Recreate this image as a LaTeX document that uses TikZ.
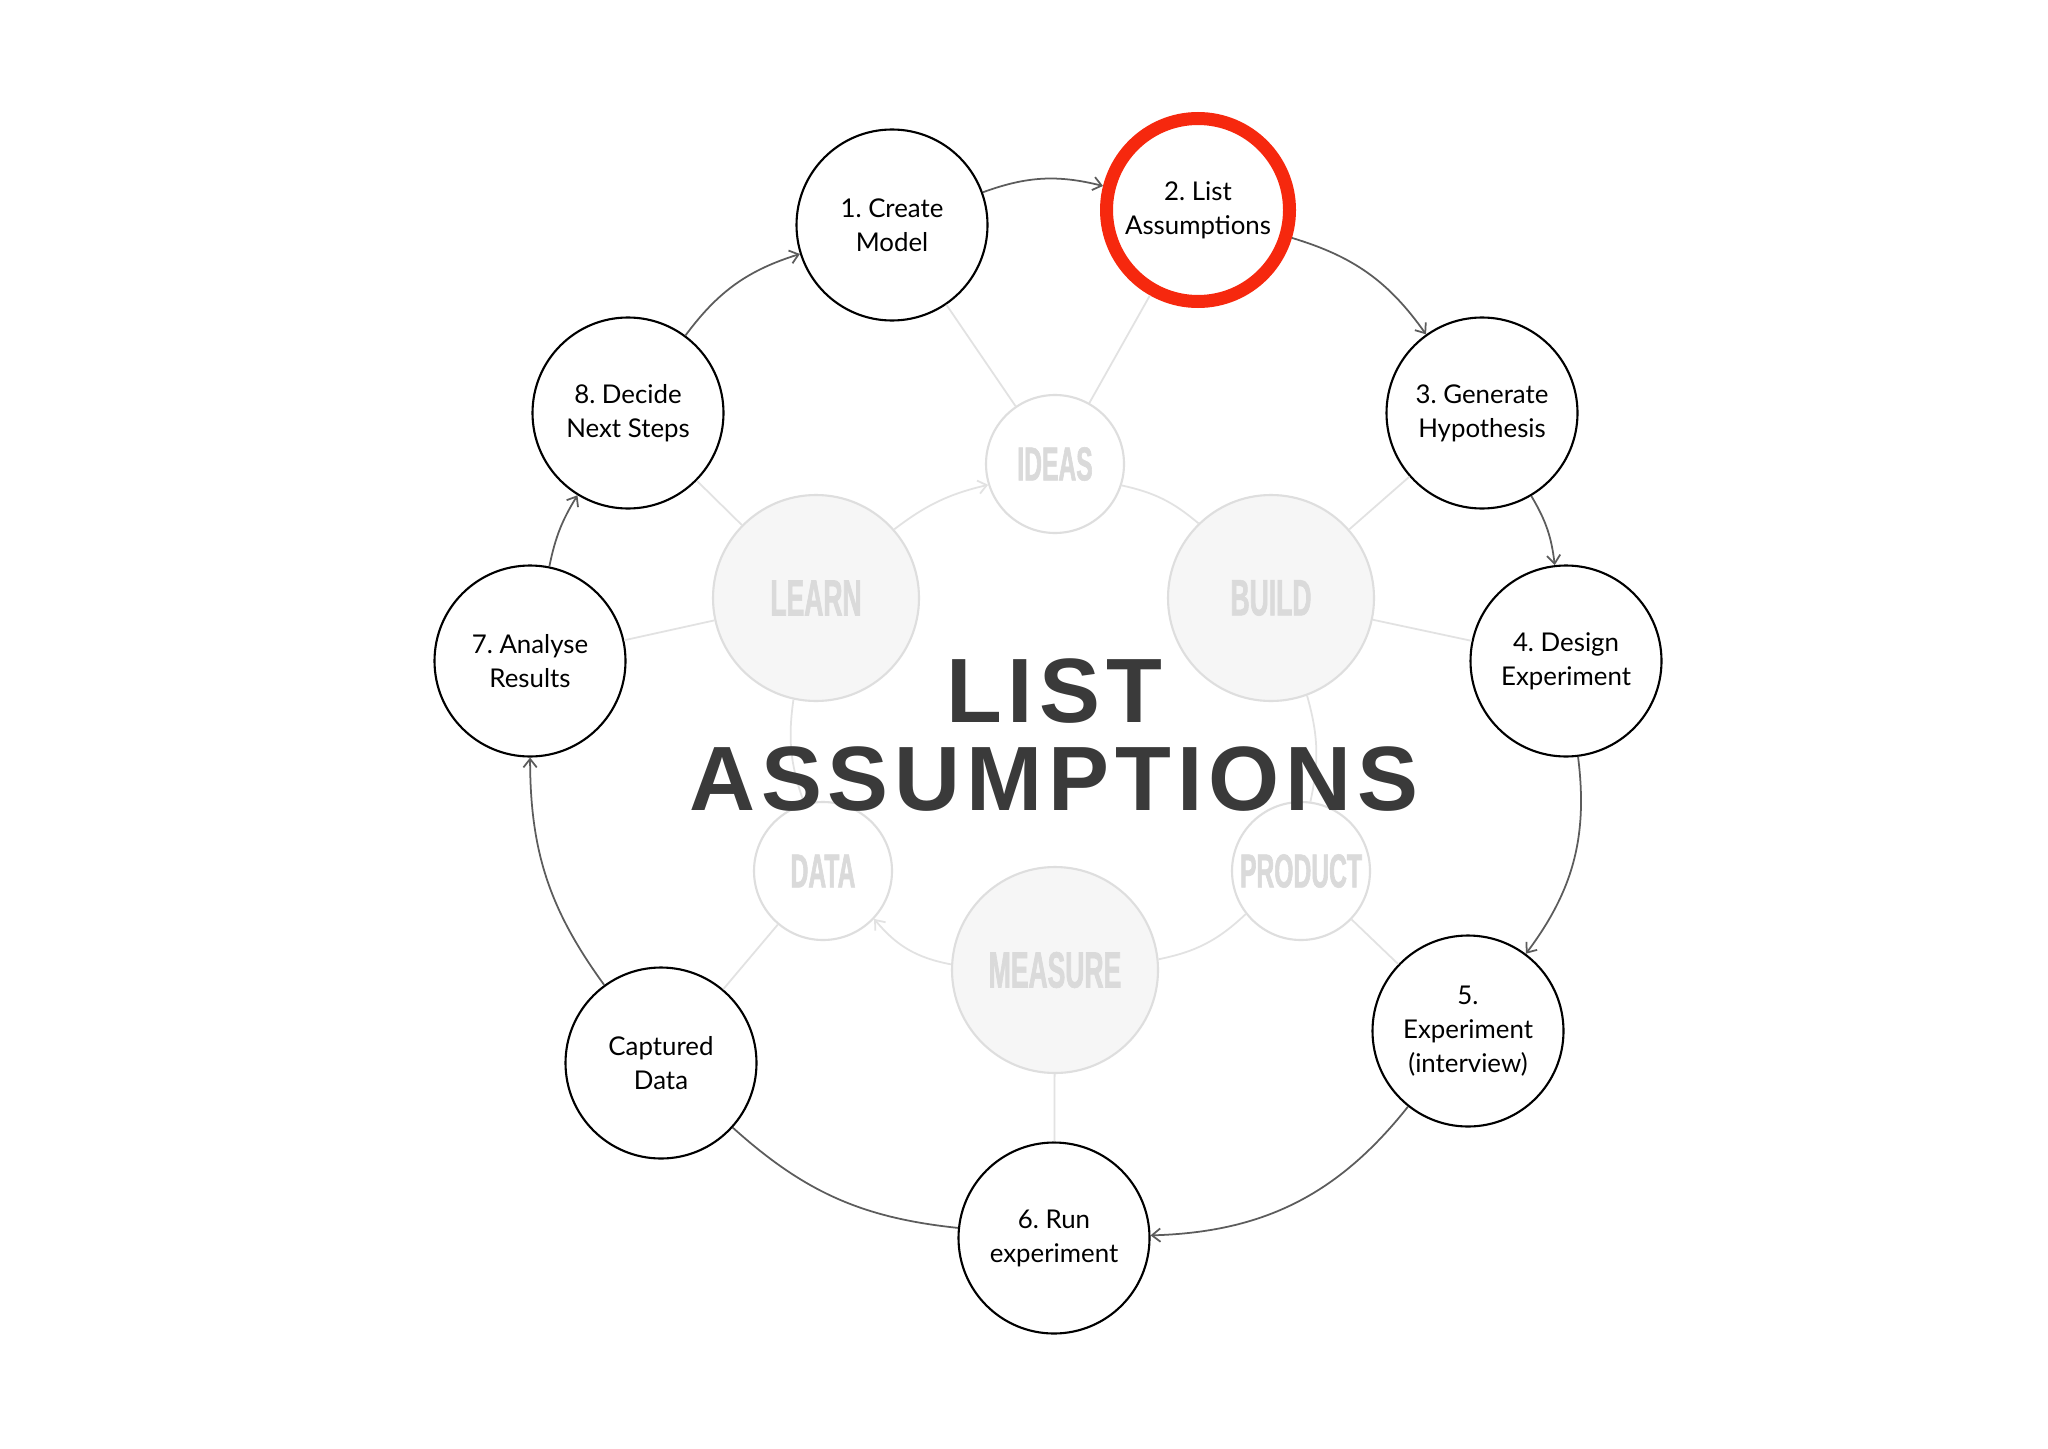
\documentclass[tikz,border=0pt]{standalone}
\usepackage{fontspec}
\setmainfont{Lato}
\newfontfamily\titlefont[LetterSpace=6.5]{Liberation Sans}
\newfontfamily\phasefont[FakeStretch=0.52,FakeBold=1.2]{Liberation Sans}
\usetikzlibrary{arrows.meta,positioning}
\frenchspacing
\definecolor{ringgray}{HTML}{5C5C5C}
\definecolor{spokegray}{HTML}{E2E2E2}
\definecolor{phasefill}{HTML}{F6F6F6}
\definecolor{phaseline}{HTML}{DEDEDE}
\definecolor{phasetext}{HTML}{DADADA}
\definecolor{focusred}{RGB}{246,40,14}
\definecolor{titlegray}{HTML}{3A3A3A}
\tikzset{
    >={Straight Barb[length=2.4pt,width=3.8pt]},
    every picture/.style={line width=0.5pt},
    stepnode/.style={circle,draw=black,line width=0.6pt,fill=white,minimum size=1.91cm,inner sep=0pt,align=center,font=\fontsize{7.35}{9.7}\selectfont},
    focusnode/.style={stepnode,draw=focusred,line width=3.7pt,minimum size=1.83cm},
    phasebig/.style={circle,draw=phaseline,line width=0.6pt,fill=phasefill,minimum size=2.06cm,inner sep=0pt,text=phasetext,font=\phasefont\bfseries\fontsize{14.5}{14.5}\selectfont},
    phasesmall/.style={phasebig,fill=white,minimum size=1.38cm,font=\phasefont\bfseries\fontsize{13.5}{13.5}\selectfont},
    titletext/.style={anchor=base,inner sep=0pt,text=titlegray,font=\titlefont\bfseries\fontsize{26}{26}\selectfont},
    ringarrow/.style={draw=ringgray,line width=0.5pt,->},
    ringline/.style={draw=ringgray,line width=0.5pt},
    spoke/.style={draw=spokegray,line width=0.5pt},
    innerarc/.style={draw=spokegray,line width=0.5pt}
}

\begin{document}
\begin{tikzpicture}[x=0.1mm,y=0.1mm]
    \path[use as bounding box,fill=white] (0,0) rectangle (2048,-1448);

    % inner cycle
    \node[phasesmall] (ideas) at (1055,-464) {IDEAS};
    \node[phasebig] (learn) at (816,-598) {LEARN};
    \node[phasebig] (build) at (1271,-598) {BUILD};
    \node[phasesmall] (data) at (823,-871) {DATA};
    \node[phasesmall] (product) at (1301,-871) {PRODUCT};
    \node[phasebig] (measure) at (1055,-970) {MEASURE};

    \draw[innerarc,->] (learn) to[bend left=12] (ideas);
    \draw[innerarc] (ideas) to[bend left=14] (build);
    \draw[innerarc] (build) to[bend left=14] (product);
    \draw[innerarc] (product) to[bend left=16] (measure);
    \draw[innerarc,->] (measure) to[bend left=20] (data);
    \draw[innerarc] (data) to[bend left=14] (learn);

    % outer steps
    \node[stepnode] (create) at (892,-225) {1. Create\\Model};
    \node[focusnode] (assume) at (1198,-210) {2. List\\Assumptions};
    \node[stepnode] (hypo) at (1482,-413) {3. Generate\\Hypothesis};
    \node[stepnode] (design) at (1566,-661) {4. Design\\Experiment};
    \node[stepnode] (interview) at (1468,-1031) {5.\\Experiment\\(interview)};
    \node[stepnode] (run) at (1054,-1238) {6. Run\\experiment};
    \node[stepnode] (captured) at (661,-1063) {Captured\\Data};
    \node[stepnode] (analyse) at (530,-661) {7. Analyse\\Results};
    \node[stepnode] (decide) at (628,-413) {8. Decide\\Next Steps};

    \draw[spoke] (create) -- (ideas);
    \draw[spoke] (assume) -- (ideas);
    \draw[spoke] (build) -- (hypo);
    \draw[spoke] (build) -- (design);
    \draw[spoke] (product) -- (interview);
    \draw[spoke] (measure) -- (run);
    \draw[spoke] (data) -- (captured);
    \draw[spoke] (learn) -- (analyse);
    \draw[spoke] (learn) -- (decide);

    \draw[ringarrow] (create) to[bend left=17] (assume);
    \draw[ringarrow] (assume) to[bend left=19] (hypo);
    \draw[ringarrow] (hypo) to[bend left=12] (design);
    \draw[ringarrow] (design) to[bend left=22] (interview);
    \draw[ringarrow] (interview) to[bend left=25] (run);
    \draw[ringline] (run) to[bend left=18] (captured);
    \draw[ringarrow] (captured) to[bend left=18] (analyse);
    \draw[ringarrow] (analyse) to[bend left=10] (decide);
    \draw[ringarrow] (decide) to[bend left=18] (create);

    \node[titletext] (titletop) at (1054,-722) {LIST};
    \node[titletext] (titlebottom) at (1054,-810) {ASSUMPTIONS};
\end{tikzpicture}
\end{document}
